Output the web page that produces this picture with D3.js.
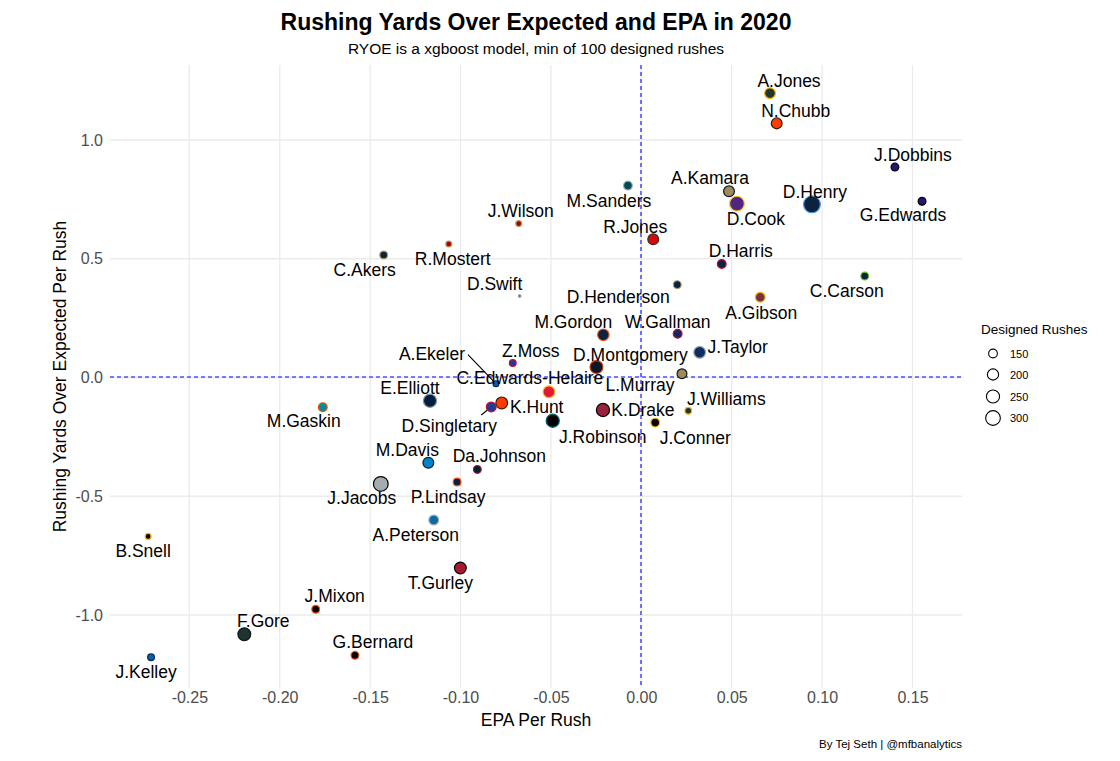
<!DOCTYPE html>
<html>
<head>
<meta charset="utf-8">
<script src="https://cdn.jsdelivr.net/npm/d3@7"></script>
<style>
  html, body { margin: 0; padding: 0; background: #fff; }
  svg { display: block; font-family: "Liberation Sans", Arial, sans-serif; }
</style>
</head>
<body>
<svg id="chart" width="1120" height="761"></svg>
<script>
// ---------------- DATA ----------------
const players = ["A.Jones","N.Chubb","J.Dobbins","G.Edwards","D.Henry","D.Cook","A.Kamara","M.Sanders",
  "J.Wilson","R.Mostert","C.Akers","D.Swift","R.Jones","D.Harris","C.Carson","A.Gibson","D.Henderson",
  "M.Gordon","W.Gallman","J.Taylor","D.Montgomery","L.Murray","J.Williams","J.Conner","K.Drake",
  "J.Robinson","C.Edwards-Helaire","A.Ekeler","Z.Moss","K.Hunt","D.Singletary","E.Elliott","M.Gaskin",
  "M.Davis","Da.Johnson","P.Lindsay","J.Jacobs","A.Peterson","T.Gurley","B.Snell","J.Mixon","F.Gore",
  "G.Bernard","J.Kelley"];
const teams = ["GB","CLE","BAL","BAL","TEN","MIN","NO","PHI",
  "SF","SF","LA","DET","TB","NE","SEA","WAS","LA",
  "DEN","NYG","IND","CHI","NO","GB","PIT","ARI",
  "JAX","KC","LAC","BUF","CLE","BUF","DAL","MIA",
  "CAR","HOU","DEN","LV","DET","ATL","PIT","CIN","NYJ",
  "CIN","LAC"];
const epaPerRush = [0.0712,0.0749,0.1403,0.1553,0.0944,0.0529,0.0485,-0.0074,
  -0.0678,-0.1065,-0.1425,-0.0673,0.0066,0.0445,0.1236,0.0658,0.0199,
  -0.0210,0.0201,0.0323,-0.0248,0.0225,0.0260,0.0077,-0.0212,
  -0.0490,-0.0511,-0.0804,-0.0711,-0.0772,-0.0830,-0.1169,-0.1762,
  -0.1178,-0.0907,-0.1019,-0.1441,-0.1148,-0.1001,-0.2728,-0.1801,-0.2196,
  -0.1584,-0.2712];
const ryoePerRush = [1.197,1.070,0.886,0.742,0.729,0.732,0.784,0.808,
  0.648,0.562,0.516,0.343,0.582,0.478,0.427,0.338,0.391,
  0.180,0.184,0.106,0.044,0.016,-0.140,-0.190,-0.137,
  -0.182,-0.060,-0.026,0.061,-0.107,-0.124,-0.098,-0.125,
  -0.359,-0.387,-0.440,-0.448,-0.600,-0.802,-0.669,-0.976,-1.081,
  -1.170,-1.178];
const designedRushes = [190,190,135,135,375,302,190,150,
  113,113,135,100,190,150,135,169,135,
  206,150,213,240,169,122,150,250,
  250,213,113,122,213,169,250,150,
  190,135,135,300,169,213,113,135,240,
  135,122];

const xTicks = [-0.25,-0.20,-0.15,-0.10,-0.05,0.00,0.05,0.10,0.15];
const yTicks = [-1.0,-0.5,0.0,0.5,1.0];
const legendValues = [150,200,250,300];

// ---------------- STYLES ----------------
const teamFill = {GB:"#203731",CLE:"#FF3C00",BAL:"#241773",TEN:"#0C2340",MIN:"#4F2683",NO:"#9F8A5E",
  PHI:"#004C54",SF:"#AA0000",LA:"#0A2343",DET:"#0A6AA6",TB:"#D50A0A",NE:"#0C2040",SEA:"#0C2340",
  WAS:"#773141",DEN:"#0C2340",NYG:"#1A2366",IND:"#0B2F62",CHI:"#0B162A",PIT:"#000000",ARI:"#97233F",
  JAX:"#000000",KC:"#E31837",LAC:"#0B5FA5",BUF:"#203B96",DAL:"#041E42",MIA:"#008E97",CAR:"#0085CA",
  HOU:"#03202F",LV:"#A5ACAF",ATL:"#A71930",CIN:"#000000",NYJ:"#1F332F"};
const teamStroke = {GB:"#FFB612",CLE:"#311D00",BAL:"#000000",TEN:"#4B92DB",MIN:"#FFC62F",NO:"#101820",
  PHI:"#A5ACAF",SF:"#B3995D",LA:"#B39B62",DET:"#A5ACAF",TB:"#34302B",NE:"#C60C30",SEA:"#69BE28",
  WAS:"#FFB612",DEN:"#FB4F14",NYG:"#A71930",IND:"#A2AAAD",CHI:"#C83803",PIT:"#FFB612",ARI:"#000000",
  JAX:"#006778",KC:"#FFB81C",LAC:"#002A5E",BUF:"#C60C30",DAL:"#869397",MIA:"#FC4C02",CAR:"#101820",
  HOU:"#A71930",LV:"#000000",ATL:"#000000",CIN:"#FB4F14",NYJ:"#0E1C19"};

// label placement (pixel offsets from the point, as placed by the repel layout)
const labelOffsets = {
  "A.Jones":[19,-12],"N.Chubb":[19,-12],"J.Dobbins":[18,-12],"G.Edwards":[-19,14],"D.Henry":[3,-12],
  "D.Cook":[19,15],"A.Kamara":[-19,-13],"M.Sanders":[-19,15],"J.Wilson":[2,-13],"R.Mostert":[4,15],
  "C.Akers":[-19,15],"D.Swift":[-25,-12],"R.Jones":[-18,-12],"D.Harris":[19,-13],"C.Carson":[-18,15],
  "A.Gibson":[1,16],"D.Henderson":[-59,12],"M.Gordon":[-30,-13],"W.Gallman":[-10,-12],"J.Taylor":[38,-5],
  "D.Montgomery":[34,-12],"L.Murray":[-42,11],"J.Williams":[38,-12],"J.Conner":[40,15],"K.Drake":[40,0],
  "J.Robinson":[50,16],"C.Edwards-Helaire":[-19,-14],"A.Ekeler":[-64,-30],"Z.Moss":[18,-12],
  "K.Hunt":[35,4],"D.Singletary":[-42,19],"E.Elliott":[-20,-13],"M.Gaskin":[-19,14],"M.Davis":[-21,-13],
  "Da.Johnson":[22,-13],"P.Lindsay":[-9,15],"J.Jacobs":[-19,14],"A.Peterson":[-18,15],"T.Gurley":[-20,15],
  "B.Snell":[-5,15],"J.Mixon":[19,-13],"F.Gore":[19,-13],"G.Bernard":[18,-13],"J.Kelley":[-5,15]
};
// repel segments: start offset from point
const segmentStarts = {"A.Ekeler":[-28,-29],"D.Singletary":[-10,8]};

// ---------------- CHART ----------------
const svg = d3.select("#chart");
const panel = {left:110, right:962, top:65, bottom:688};

const x = d3.scaleLinear().domain([-0.2939, 0.1774]).range([panel.left, panel.right]);
const y = d3.scaleLinear().domain([-1.3074, 1.3158]).range([panel.bottom, panel.top]);

const nMin = d3.min(designedRushes), nMax = d3.max(designedRushes);
const sizeScale = d3.scaleSqrt().domain([0, nMax - nMin]).range([1, 6]);
const radius = n => 1.4 * sizeScale(Math.max(0, n - nMin));

const fmt2 = v => d3.format(".2f")(v).replace("\u2212", "-");
const fmt1 = v => d3.format(".1f")(v).replace("\u2212", "-");

// gridlines
const grid = svg.append("g");
grid.selectAll("line.v").data(xTicks).join("line")
  .attr("x1", d => x(d)).attr("x2", d => x(d))
  .attr("y1", panel.top).attr("y2", panel.bottom)
  .attr("stroke", "#ebebeb").attr("stroke-width", 1.3);
grid.selectAll("line.h").data(yTicks).join("line")
  .attr("y1", d => y(d)).attr("y2", d => y(d))
  .attr("x1", panel.left).attr("x2", panel.right)
  .attr("stroke", "#ebebeb").attr("stroke-width", 1.3);

// axes (tick labels only, like theme_minimal)
const xAxis = svg.append("g").attr("transform", `translate(0,${panel.bottom})`)
  .call(d3.axisBottom(x).tickValues(xTicks).tickFormat(fmt2).tickSize(0).tickPadding(4));
const yAxis = svg.append("g").attr("transform", `translate(${panel.left},0)`)
  .call(d3.axisLeft(y).tickValues(yTicks).tickFormat(fmt1).tickSize(0).tickPadding(7));
[xAxis, yAxis].forEach(a => {
  a.select(".domain").remove();
  a.selectAll("text").attr("fill", "#4d4d4d").style("font-size", "16px")
    .style("font-family", "'Liberation Sans', Arial, sans-serif");
});

// reference lines
const x0 = Math.round(x(0)), y0 = Math.round(y(0));
svg.append("line").attr("x1", x0).attr("x2", x0).attr("y1", panel.top).attr("y2", panel.bottom)
  .attr("stroke", "#5050ff").attr("stroke-width", 1.6).attr("stroke-dasharray", "4,3");
svg.append("line").attr("y1", y0).attr("y2", y0).attr("x1", panel.left).attr("x2", panel.right)
  .attr("stroke", "#5050ff").attr("stroke-width", 1.6).attr("stroke-dasharray", "4,3");

const data = players.map((p, i) => ({
  name: p, team: teams[i], epa: epaPerRush[i], ryoe: ryoePerRush[i], n: designedRushes[i]
}));

// repel segments
const segs = data.filter(d => segmentStarts[d.name]);
svg.append("g").selectAll("line").data(segs).join("line")
  .attr("x1", d => x(d.epa) + segmentStarts[d.name][0])
  .attr("y1", d => y(d.ryoe) + segmentStarts[d.name][1])
  .attr("x2", d => {
    const dx = -segmentStarts[d.name][0], dy = -segmentStarts[d.name][1];
    const L = Math.hypot(dx, dy); return x(d.epa) - dx / L * radius(d.n);
  })
  .attr("y2", d => {
    const dx = -segmentStarts[d.name][0], dy = -segmentStarts[d.name][1];
    const L = Math.hypot(dx, dy); return y(d.ryoe) - dy / L * radius(d.n);
  })
  .attr("stroke", "#000").attr("stroke-width", 1.1);

// points
svg.append("g").selectAll("circle").data(data).join("circle")
  .attr("cx", d => x(d.epa)).attr("cy", d => y(d.ryoe))
  .attr("r", d => radius(d.n))
  .attr("fill", d => teamFill[d.team])
  .attr("stroke", d => teamStroke[d.team])
  .attr("stroke-width", 1.2);

// labels
svg.append("g").selectAll("text").data(data).join("text")
  .attr("x", d => x(d.epa) + labelOffsets[d.name][0])
  .attr("y", d => y(d.ryoe) + labelOffsets[d.name][1])
  .attr("text-anchor", "middle").attr("dominant-baseline", "central")
  .style("font-size", "17.5px").attr("fill", "#000")
  .text(d => d.name);

// titles
const cx = (panel.left + panel.right) / 2;
svg.append("text").attr("x", cx).attr("y", 30).attr("text-anchor", "middle")
  .style("font-size", "23px").style("font-weight", "bold").text("Rushing Yards Over Expected and EPA in 2020");
svg.append("text").attr("x", cx).attr("y", 54).attr("text-anchor", "middle")
  .style("font-size", "15.5px").text("RYOE is a xgboost model, min of 100 designed rushes");
svg.append("text").attr("x", cx).attr("y", 726).attr("text-anchor", "middle")
  .style("font-size", "17.5px").text("EPA Per Rush");
svg.append("text").attr("transform", `translate(66,${(panel.top + panel.bottom) / 2}) rotate(-90)`)
  .attr("text-anchor", "middle").style("font-size", "17.5px").text("Rushing Yards Over Expected Per Rush");
svg.append("text").attr("x", panel.right).attr("y", 748).attr("text-anchor", "end")
  .style("font-size", "11.5px").text("By Tej Seth | @mfbanalytics");

// legend
const lg = svg.append("g");
lg.append("text").attr("x", 981).attr("y", 334).style("font-size", "13.5px").text("Designed Rushes");
const keyY = [353.5, 374.5, 396.5, 418];
legendValues.forEach((v, i) => {
  lg.append("circle").attr("cx", 993).attr("cy", keyY[i]).attr("r", radius(v))
    .attr("fill", "none").attr("stroke", "#000").attr("stroke-width", 1.1);
  lg.append("text").attr("x", 1010).attr("y", keyY[i]).attr("dominant-baseline", "central")
    .style("font-size", "11px").text(v);
});
</script>
</body>
</html>
